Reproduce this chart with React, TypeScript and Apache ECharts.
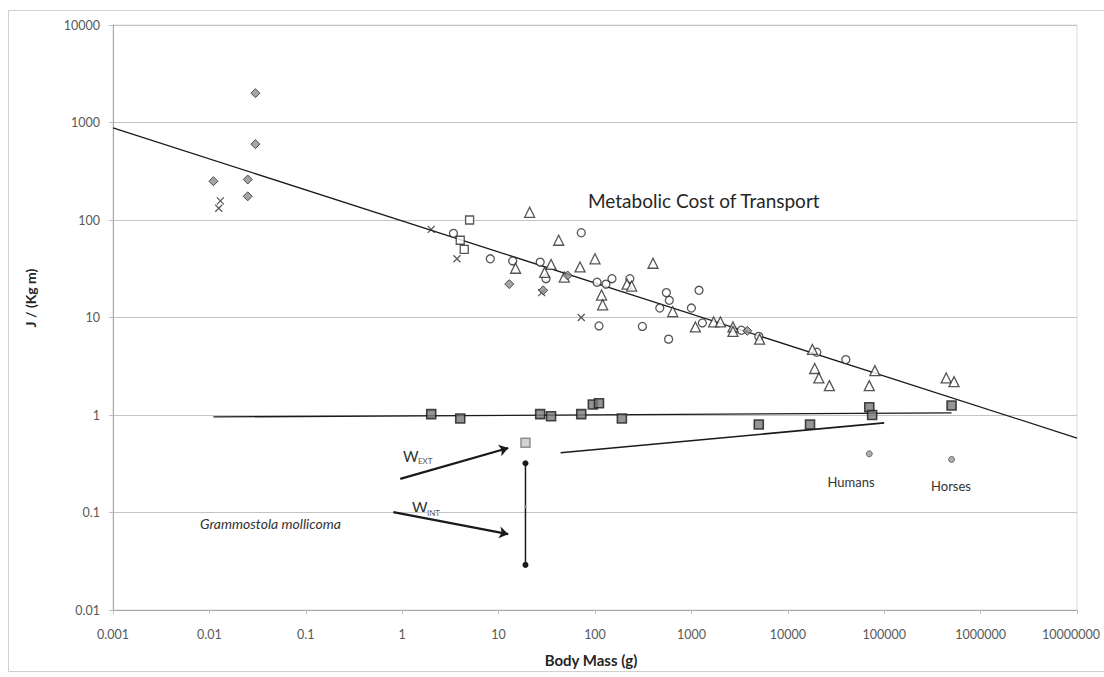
import React, { useEffect, useRef } from "react";
import * as echarts from "echarts";

// ---------- data (body mass g, J/(kg m)) ----------
const circles: [number, number][] = [
  [3.4, 73], [8.2, 40], [14, 38], [27, 37], [31, 25], [72, 74], [105, 23], [130, 22],
  [150, 25], [230, 25], [550, 18], [590, 15], [1200, 19], [1000, 12.5], [470, 12.5],
  [110, 8.2], [310, 8.1], [580, 6], [1300, 8.8], [3300, 7.4], [5000, 6.4], [20000, 4.4],
  [40000, 3.7],
];
const triangles: [number, number][] = [
  [21, 120], [15, 32], [35, 35], [30, 29], [42, 62], [70, 33], [48, 26], [100, 40],
  [117, 17], [120, 13.5], [400, 36], [215, 22], [240, 21], [640, 11.5], [1100, 8],
  [1700, 9], [2000, 9], [2700, 8], [2700, 7.2], [5100, 6], [18000, 4.7], [19000, 3.0],
  [21000, 2.4], [27000, 2.0], [70000, 2.0], [80000, 2.85], [440000, 2.4], [530000, 2.2],
];
const openSquares: [number, number][] = [[5, 100], [4, 62], [4.4, 50]];
const crosses: [number, number][] = [[0.013, 157], [0.0125, 132], [2, 80], [3.7, 40], [28, 18], [72, 10]];
const diamonds: [number, number][] = [
  [0.03, 2000], [0.03, 600], [0.011, 250], [0.025, 260], [0.025, 175], [12.9, 22],
  [29, 19], [52, 27], [3800, 7.3],
];
const wextSquares: [number, number][] = [
  [2, 1.02], [4, 0.92], [27, 1.02], [35, 0.97], [72, 1.02], [95, 1.28], [110, 1.32],
  [190, 0.92], [5000, 0.8], [17000, 0.8], [70000, 1.2], [75000, 1.0], [500000, 1.25],
];
const grammostolaExt: [number, number][] = [[19, 0.52]];
const grammostolaInt: [number, number][] = [[19, 0.32], [19, 0.029]];
const grammostolaMid: [number, number][] = [[19, 0.115]];
const humansHorses: [number, number][] = [[70000, 0.4], [500000, 0.35]];

const costTrend: [number, number][] = [[0.001, 880], [10000000, 0.58]];
const wextTrend: [number, number][] = [[0.011, 0.955], [500000, 1.05]];
const lowerTrend: [number, number][] = [[44, 0.41], [100000, 0.83]];

const arrowExt: [number, number][] = [[0.955, 0.221], [12.6, 0.459]];
const arrowInt: [number, number][] = [[0.81, 0.101], [12.6, 0.06]];

const xMin = 0.001, xMax = 10000000;
const yMin = 0.01, yMax = 10000;

const FONT = "Lato, 'Open Sans', sans-serif";
const fmt = (v: number) => String(Number(Number(v).toPrecision(6)));
const fmtX = (v: number) => {
  const s = fmt(v);
  return Number(s) >= xMax ? "{edge|" + s + "}" : s;
};

export default function App() {
  const ref = useRef<HTMLDivElement>(null);
  useEffect(() => {
    if (!ref.current) return;
    const chart = echarts.init(ref.current, null, { renderer: "svg" });
    const markStroke = "#2b2b2b";
    const option: any = {
      animation: false,
      backgroundColor: "#ffffff",
      textStyle: { fontFamily: FONT },
      grid: { left: 113, right: 27, top: 25, bottom: 67, outerBoundsMode: "none", show: true, borderColor: "#e6d4d8", borderWidth: 1 },
      xAxis: {
        type: "log", logBase: 10, min: xMin, max: xMax, interval: 1,
        axisLine: { show: true, lineStyle: { color: "#a6a6a6", width: 1 } },
        axisTick: { show: true, length: 4, lineStyle: { color: "#c0c0c0" } },
        splitLine: { show: false },
        axisLabel: {
          formatter: fmtX, color: "#595959", fontSize: 12.5, margin: 18, fontFamily: FONT,
          rich: { edge: { fontSize: 12.5, color: "#595959", fontFamily: FONT, padding: [0, 12, 0, 0] } },
        },
      },
      yAxis: {
        type: "log", logBase: 10, min: yMin, max: yMax, interval: 1,
        axisLine: { show: true, lineStyle: { color: "#a6a6a6", width: 1 } },
        axisTick: { show: true, length: 4, lineStyle: { color: "#c0c0c0" } },
        splitLine: { show: true, lineStyle: { color: "#c4c4c4", width: 1.2 } },
        axisLabel: { formatter: fmt, color: "#595959", fontSize: 12.5, margin: 13, fontFamily: FONT },
      },
      series: [
        { type: "line", data: costTrend, showSymbol: false, lineStyle: { color: "#1a1a1a", width: 1.3 }, z: 2 },
        { type: "line", data: wextTrend, showSymbol: false, lineStyle: { color: "#1a1a1a", width: 1.3 }, z: 2 },
        { type: "line", data: lowerTrend, showSymbol: false, lineStyle: { color: "#1a1a1a", width: 1.6 }, z: 2 },
        {
          type: "lines", coordinateSystem: "cartesian2d", symbol: ["none", "arrow"], symbolSize: 9,
          lineStyle: { color: "#1a1a1a", width: 2.2, opacity: 1 },
          data: [{ coords: arrowExt }, { coords: arrowInt }], z: 3,
        },
        {
          type: "line", data: grammostolaInt, symbol: "circle", symbolSize: 6, showSymbol: true,
          lineStyle: { color: "#1a1a1a", width: 1.5 }, itemStyle: { color: "#1a1a1a" }, z: 3,
        },
        { type: "scatter", data: grammostolaMid, symbol: "circle", symbolSize: 3, itemStyle: { color: "#9a9a9a" }, z: 4 },
        { type: "scatter", data: circles, symbol: "circle", symbolSize: 8, itemStyle: { color: "#ffffff", borderColor: markStroke, borderWidth: 1.3 }, z: 5 },
        { type: "scatter", data: triangles, symbol: "triangle", symbolSize: 10, itemStyle: { color: "#ffffff", borderColor: markStroke, borderWidth: 1.3 }, z: 5 },
        { type: "scatter", data: openSquares, symbol: "rect", symbolSize: 8, itemStyle: { color: "#ffffff", borderColor: markStroke, borderWidth: 1.3 }, z: 5 },
        { type: "scatter", data: crosses, symbol: "path://M0 0L10 10M10 0L0 10", symbolSize: 7, itemStyle: { color: "none", borderColor: markStroke, borderWidth: 1.2 }, z: 5 },
        { type: "scatter", data: diamonds, symbol: "diamond", symbolSize: 9, itemStyle: { color: "#8f8f8f", borderColor: markStroke, borderWidth: 1 }, z: 5 },
        { type: "scatter", data: wextSquares, symbol: "rect", symbolSize: 9, itemStyle: { color: "#7a7a7a", borderColor: "#1a1a1a", borderWidth: 1.6 }, z: 6 },
        { type: "scatter", data: grammostolaExt, symbol: "rect", symbolSize: 9, itemStyle: { color: "#c8c8c8", borderColor: "#7a7a7a", borderWidth: 1.5 }, z: 6 },
        { type: "scatter", data: humansHorses, symbol: "circle", symbolSize: 6, itemStyle: { color: "#9a9a9a", borderColor: "#555555", borderWidth: 1 }, z: 6 },
      ],
      graphic: [
        { type: "rect", shape: { x: 8.5, y: 10.5, width: 1100, height: 661 }, style: { fill: "none", stroke: "#d0d0d0", lineWidth: 1 }, silent: true, z: -10 },
        { type: "text", x: 588, y: 200, style: { text: "Metabolic Cost of Transport", fontSize: 19, fontFamily: FONT, fill: "#262626", verticalAlign: "middle", align: "left" } },
        { type: "text", x: 30, y: 298, rotation: Math.PI / 2, style: { text: "J / (Kg m)", fontSize: 14, fontWeight: "bold", fontFamily: FONT, fill: "#262626", align: "center", verticalAlign: "middle" } },
        { type: "text", x: 591, y: 660, style: { text: "Body Mass (g)", fontSize: 15, fontWeight: "bold", fontFamily: FONT, fill: "#262626", align: "center", verticalAlign: "middle" } },
        { type: "text", x: 851, y: 482, style: { text: "Humans", fontSize: 13, fontFamily: FONT, fill: "#333333", align: "center", verticalAlign: "middle" } },
        { type: "text", x: 951, y: 486, style: { text: "Horses", fontSize: 13, fontFamily: FONT, fill: "#333333", align: "center", verticalAlign: "middle" } },
        { type: "text", x: 200, y: 523, style: { text: "Grammostola mollicoma", fontSize: 14, fontStyle: "italic", fontFamily: FONT, fill: "#333333", align: "left", verticalAlign: "middle" } },
        { type: "text", x: 403, y: 456, style: { text: "W", fontSize: 15, fontFamily: FONT, fill: "#333333", align: "left", verticalAlign: "middle" } },
        { type: "text", x: 418, y: 461, style: { text: "EXT", fontSize: 8, fontFamily: FONT, fill: "#555555", align: "left", verticalAlign: "middle" } },
        { type: "text", x: 412, y: 507, style: { text: "W", fontSize: 15, fontFamily: FONT, fill: "#333333", align: "left", verticalAlign: "middle" } },
        { type: "text", x: 427, y: 513, style: { text: "INT", fontSize: 8, fontFamily: FONT, fill: "#555555", align: "left", verticalAlign: "middle" } },
      ],
    };
    chart.setOption(option);
    return () => chart.dispose();
  }, []);
  return (
    <div
      ref={ref}
      style={{ position: "fixed", left: 0, top: 0, width: 1104, height: 677, background: "#ffffff" }}
    />
  );
}
